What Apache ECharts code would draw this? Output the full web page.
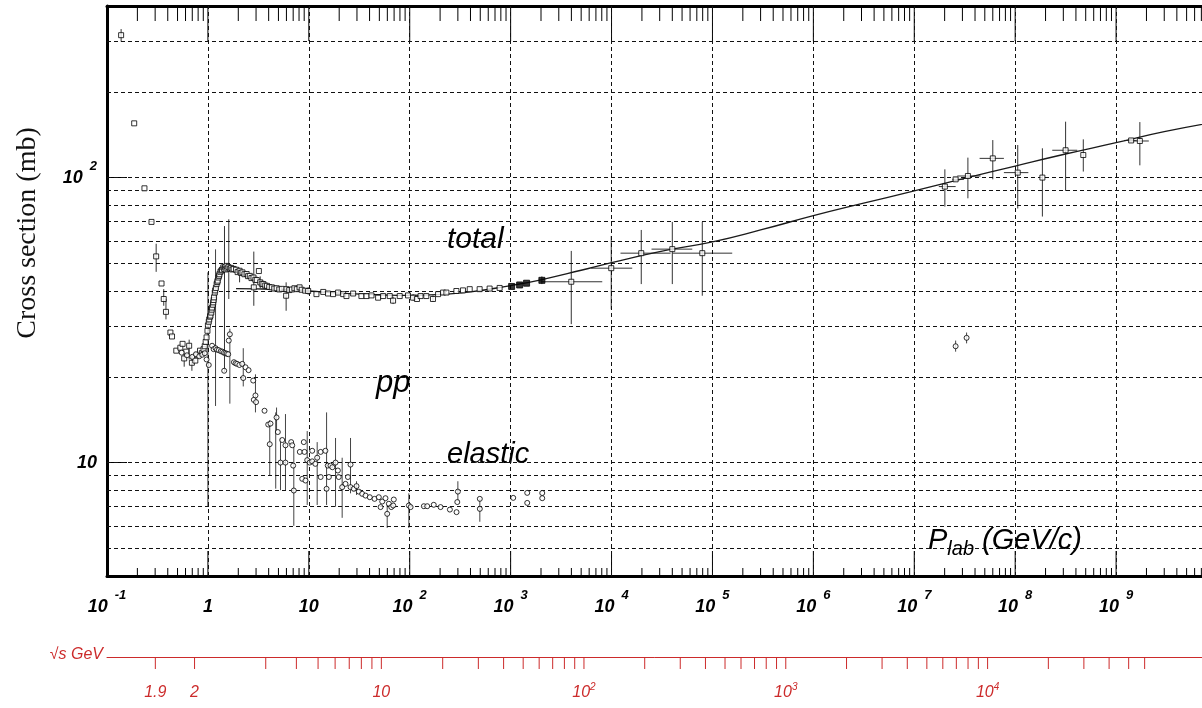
<!DOCTYPE html>
<html>
<head>
<meta charset="utf-8">
<script src="https://cdn.jsdelivr.net/npm/echarts@6/dist/echarts.min.js"></script>
<style>
  html, body { margin: 0; padding: 0; background: #fff; overflow: hidden; }
  #chart { width: 1202px; height: 708px; }
</style>
</head>
<body>
<div id="chart"></div>
<script>
// ---- pp cross sections vs laboratory beam momentum ----
// momentum in GeV/c, cross section in mb

// total cross section, open squares [p, sigma]
const totalPoints = [
  [0.138, 316], [0.186, 155], [0.235, 91.7], [0.276, 69.9], [0.307, 52.9], [0.347, 42.5],
  [0.365, 37.5], [0.384, 33.8], [0.425, 28.6], [0.441, 27.7], [0.486, 24.7], [0.533, 25.3],
  [0.561, 26.1], [0.582, 23.2], [0.61, 24.5], [0.652, 25.7], [0.694, 22.4], [0.75, 22.8],
  [0.785, 23.8], [0.835, 24.7], [0.87, 24.2], [0.905, 25.0], [0.93, 25.6],
  [0.95, 26.5], [0.97, 27.5], [0.99, 29.0], [1.0, 30.3], [1.02, 31.2], [1.03, 31.8],
  [1.05, 32.5], [1.06, 32.8], [1.08, 33.6], [1.09, 34.4], [1.10, 35.0], [1.12, 35.8],
  [1.13, 36.5], [1.14, 37.2], [1.15, 38.0], [1.17, 39.5], [1.18, 40.2], [1.20, 41.0],
  [1.22, 42.3], [1.24, 43.0], [1.25, 43.5], [1.27, 44.6], [1.29, 45.2], [1.30, 45.8],
  [1.33, 46.7], [1.36, 47.2], [1.38, 47.5], [1.42, 48.4], [1.45, 47.8], [1.48, 48.6],
  [1.50, 47.6], [1.53, 49.0], [1.56, 48.0], [1.60, 48.5], [1.65, 47.9], [1.70, 48.2],
  [1.75, 47.6], [1.80, 47.8], [1.90, 47.5], [1.97, 46.6], [2.06, 47.1], [2.12, 46.3],
  [2.20, 46.5], [2.30, 45.8], [2.42, 45.9], [2.50, 45.1], [2.60, 45.2], [2.70, 44.4],
  [2.85, 41.2], [2.83, 44.6], [2.95, 43.8], [3.05, 43.7], [3.20, 47.0], [3.30, 42.9],
  [3.42, 42.4], [3.55, 42.3], [3.70, 41.8], [3.85, 41.7], [4.05, 41.3], [4.30, 41.2],
  [4.55, 40.8], [4.80, 40.9], [5.10, 40.5], [5.40, 40.7], [5.96, 38.5], [6.00, 40.6],
  [6.40, 40.3], [6.80, 40.5], [7.20, 40.9], [7.60, 40.6], [8.10, 41.2], [8.50, 40.4],
  [9.20, 40.1], [9.85, 40.0], [11.9, 39.0], [13.9, 39.7], [15.5, 39.2], [17.4, 39.0],
  [19.5, 39.5], [21.9, 39.0], [23.6, 38.4], [27.5, 39.2], [33.2, 38.4], [37.3, 38.4],
  [41.8, 38.6], [48.6, 37.9], [54.5, 38.4], [63.4, 38.4], [68.4, 37.0], [79.6, 38.4],
  [96.2, 38.6], [108, 37.9], [118, 37.5], [128, 38.4], [146, 38.4], [170, 37.5],
  [191, 39.0], [214, 39.5], [231, 39.5], [290, 40.0], [337, 40.2], [393, 40.6],
  [493, 40.6], [619, 40.8], [778, 41.0],
  [3990, 43.1], [9930, 48.1], [19700, 54.3], [40000, 56.1], [79300, 54.3],
  [2.01e7, 93.0], [2.57e7, 98.6], [3.4e7, 101.3], [6.0e7, 116.8], [1.06e8, 104.1],
  [1.86e8, 100], [3.16e8, 124.7], [4.73e8, 120], [1.41e9, 135], [1.72e9, 134.4]
];

// total cross section, solid markers [p, sigma]
const totalSolid = [[1023, 41.5], [1228, 42.0], [1439, 42.6], [2040, 43.6]];

// total cross section uncertainties [p, sigma, sigmaLow, sigmaHigh, pLow, pHigh]
const totalErrors = [
  [0.138, 316, 300, 332, null, null], [0.307, 52.9, 46.7, 58.6, null, null],
  [0.365, 37.5, 35.5, 40.6, null, null], [0.384, 33.8, 31.8, 37.5, null, null],
  [0.582, 23.2, 21.7, 24.6, null, null], [0.652, 25.7, 23.0, 27.0, null, null],
  [0.694, 22.4, 21.0, 24.0, null, null], [1.0, 30.3, 7.0, 46.5, null, null],
  [1.46, 47.8, 20.8, 67.6, null, null], [1.61, 48.5, 37.5, 71.4, null, null],
  [2.06, 47.1, 42.9, 48.3, null, null], [2.85, 41.2, 35.5, 55.0, null, null],
  [3.30, 42.9, 40.9, 45.0, null, null], [5.96, 38.5, 34.1, 42.9, null, null],
  [9.85, 40.0, 38.8, 41.3, null, null], [68.4, 37.0, 36.0, 38.2, null, null],
  [108, 37.9, 37.0, 39.0, null, null], [170, 37.5, 36.6, 38.6, null, null],
  [2040, 43.6, 42.3, 45.0, null, null],
  [3990, 43.1, 30.6, 55.3, 1978, 8090], [9930, 48.1, 34.5, 62.4, 6290, 16030],
  [19700, 54.3, 42.3, 65.5, 12270, 38450], [40000, 56.1, 42.3, 69.9, 24900, 63100],
  [79300, 54.3, 38.5, 69.9, 40000, 157000], [2.01e7, 93.0, 79.1, 106.9, 1.75e7, 2.57e7],
  [2.57e7, 98.6, null, null, 2.38e7, 3.1e7], [3.4e7, 101.3, 84.6, 117.5, 2.67e7, 4.54e7],
  [6.0e7, 116.8, 98.6, 135.4, 4.44e7, 7.73e7], [1.06e8, 104.1, 77.9, 130.1, 7.73e7, 1.35e8],
  [1.86e8, 100, 73.0, 126.7, null, null], [3.16e8, 124.7, 89.8, 157.1, 2.33e8, 4.12e8],
  [4.73e8, 120, 105, 136.2, null, null], [1.41e9, 135, null, null, 1.2e9, 1.6e9],
  [1.72e9, 134.4, 110.4, 156.6, 1.34e9, 2.11e9]
];

// elastic cross section, open circles [p, sigma]
const elasticPoints = [
  [0.55, 24.3], [0.62, 23.8], [0.70, 23.5], [0.76, 24.0], [0.82, 23.6], [0.88, 23.9],
  [0.93, 24.2], [0.97, 23.0], [1.02, 22.0], [1.10, 25.7], [1.14, 25.0], [1.19, 25.2],
  [1.23, 24.9], [1.28, 24.8], [1.34, 24.6], [1.39, 24.5], [1.44, 24.3], [1.49, 24.2],
  [1.54, 24.1], [1.59, 24.0], [1.61, 26.8], [1.65, 28.2], [1.45, 21.0], [1.81, 22.5],
  [1.88, 22.3], [1.95, 22.2], [2.05, 22.0], [2.19, 22.2], [2.24, 19.8], [2.36, 21.6],
  [2.53, 21.1], [2.81, 19.4], [2.85, 16.6], [2.96, 17.2], [3.0, 16.3], [3.64, 15.2],
  [3.96, 13.6], [4.1, 11.6], [4.17, 13.7], [4.79, 14.4], [4.93, 12.8], [5.24, 10.0],
  [5.45, 12.0], [5.87, 11.5], [5.87, 10.0], [6.69, 11.8], [6.85, 11.5], [7.0, 9.76],
  [7.1, 7.98], [8.14, 10.9], [8.6, 8.77], [8.92, 11.8], [9.06, 10.9], [9.27, 8.65],
  [9.64, 10.2], [10.2, 10.0], [10.8, 11.0], [10.8, 10.1], [11.6, 9.9], [12.1, 10.4],
  [13.1, 8.9], [13.1, 10.9], [14.6, 11.0], [15.0, 8.09], [15.4, 9.76], [15.8, 8.9],
  [16.4, 9.76], [17.1, 9.63], [18.4, 10.0], [19.4, 9.38], [19.8, 8.9], [21.4, 8.2],
  [23.1, 8.42], [24.4, 8.9], [25.9, 9.84], [25.9, 8.2], [27.9, 8.09], [29.7, 8.27],
  [31.3, 7.91], [33.8, 7.77], [36.5, 7.66], [40.2, 7.56], [44.8, 7.46], [49.4, 7.56],
  [51.4, 6.98], [53.4, 7.3], [57.5, 7.5], [59.8, 6.61], [62.1, 7.17], [65.6, 6.98],
  [68.6, 7.07], [69.5, 7.42], [98, 7.07], [102, 6.98], [138, 7.03], [149, 7.03],
  [173, 7.11], [202, 6.98], [250, 6.84], [291, 6.70], [296, 7.27], [300, 7.91],
  [495, 7.46], [495, 6.88], [1061, 7.52], [1460, 7.83], [1460, 7.22], [2057, 7.82],
  [2057, 7.5], [2.57e7, 25.6], [3.3e7, 27.4]
];

// elastic cross section uncertainties [p, sigma, sigmaLow, sigmaHigh]
const elasticErrors = [
  [1.19, 25.2, 15.8, 56], [1.65, 28.2, 16.1, 29.5], [2.24, 19.8, 18.5, 25.2],
  [2.96, 17.2, 15.0, 20.4], [4.1, 11.6, 9.0, 14.1], [4.79, 14.4, 13.0, 15.6],
  [4.7, 13.0, 8.1, 15.0], [5.24, 10.0, 8.0, 12.2], [5.87, 11.5, 8.0, 14.8],
  [7.1, 7.98, 6.0, 11.4], [9.64, 10.2, 7.1, 12.9], [12.1, 10.4, 7.1, 11.8],
  [15.0, 8.09, 7.1, 15.0], [18.4, 10.0, 7.0, 12.2], [21.4, 8.2, 6.4, 10.4],
  [25.9, 9.84, 7.8, 12.2], [29.7, 8.27, 7.7, 8.6], [59.8, 6.61, 5.9, 7.1],
  [98, 7.07, 5.9, 7.8], [300, 7.91, 7.3, 8.6], [495, 6.88, 6.2, 7.46],
  [2.57e7, 25.6, 24.5, 26.8], [3.3e7, 27.4, 26.2, 28.6]
];

// fit to the total cross section above a few GeV/c [p, sigma]
const totalFit = [
  [1.9, 40.8], [3, 40.7], [5, 40.5], [10, 40.0], [20, 39.3], [50, 38.8], [100, 38.6],
  [200, 38.9], [400, 39.7], [1000, 41.8], [2000, 43.8], [5000, 47.3], [1e4, 50.3],
  [3e4, 55.0], [1e5, 59.5], [3e5, 65.5], [1e6, 73.5], [3e6, 81.0], [1e7, 89.8],
  [3e7, 99.0], [1e8, 109.8], [3e8, 120.5], [1e9, 132.6], [3e9, 145.0], [1e10, 157.0]
];

// horizontal grid levels (mb) and labelled momentum decades (powers of ten)
const sigmaGridLevels = [5, 6, 7, 8, 9, 10, 20, 30, 40, 50, 60, 70, 80, 90, 100, 200, 300];
const momentumDecades = [-1, 0, 1, 2, 3, 4, 5, 6, 7, 8, 9];

// centre-of-mass energy scale: tick values and labelled ones (GeV)
const sqrtSTicks = [1.9, 2, 3, 4, 5, 6, 7, 8, 9, 10, 20, 30, 40, 50, 60, 70, 80, 90, 100,
  200, 300, 400, 500, 600, 700, 800, 900, 1000, 2000, 3000, 4000, 5000, 6000, 7000, 8000,
  9000, 10000, 20000, 30000, 40000, 50000, 60000];
const sqrtSLabels = [[1.9, '1.9'], [2, '2'], [10, '10'], [100, '10{e|2}'], [1000, '10{e|3}'], [10000, '10{e|4}']];

// axis ranges
const P_MIN = 0.1, P_MAX = 1e10;
const SIG_MIN = 4, SIG_MAX = 400;

// ---- helpers ----
const PROTON_MASS = 0.938272;
// beam momentum on a fixed proton target giving a centre-of-mass energy sqrt(s)
function plabFromSqrtS(rs) {
  const s = rs * rs;
  const e = (s - 2 * PROTON_MASS * PROTON_MASS) / (2 * PROTON_MASS);
  return Math.sqrt(e * e - PROTON_MASS * PROTON_MASS);
}

// momentum axis ticks: [value, sigma at frame bottom, 1 = decade / 0 = sub-decade, exponent]
const momentumTicks = [];
momentumDecades.forEach(k => {
  momentumTicks.push([Math.pow(10, k), SIG_MIN, 1, k]);
  for (let m = 2; m <= 9; m++) momentumTicks.push([m * Math.pow(10, k), SIG_MIN, 0, k]);
});

const FONT = '"Liberation Sans", Arial, sans-serif';
const RED = '#cc2b2b';
const labelRich = {
  b: { fontFamily: FONT, fontSize: 18, fontWeight: 'bold', fontStyle: 'italic', color: '#000', fill: '#000', lineHeight: 36 },
  e: { fontFamily: FONT, fontSize: 13, fontWeight: 'bold', fontStyle: 'italic', color: '#000', fill: '#000', lineHeight: 13, padding: [0, 0, 23, 7] }
};
function powerText(e) {
  if (e === 0) return '{b|1}';
  if (e === 1) return '{b|10}';
  return '{b|10}{e|' + e + '}';
}
function yLabel(v) {
  const l = Math.log10(v);
  const e = Math.round(l);
  return Math.abs(l - e) > 1e-6 ? '' : powerText(e);
}

const isNum = v => v != null && isFinite(v) && v > 0;

function errorBars(rows, color) {
  return {
    type: 'custom',
    xAxisIndex: 0, yAxisIndex: 0,
    silent: true,
    clip: true,
    z: 3,
    dimensions: ['p', 's', 'lo', 'hi', 'pl', 'ph'],
    encode: { x: 0, y: 1 },
    data: rows.map(r => [r[0], r[1], r[2] ?? NaN, r[3] ?? NaN, r[4] ?? NaN, r[5] ?? NaN]),
    renderItem: (params, api) => {
      const p = api.value(0), s = api.value(1);
      const lo = api.value(2), hi = api.value(3), pl = api.value(4), ph = api.value(5);
      const children = [];
      const st = { stroke: color, lineWidth: 1 };
      if (isNum(lo) && isNum(hi)) {
        const a = api.coord([p, lo]), b = api.coord([p, hi]);
        children.push({ type: 'line', shape: { x1: a[0], y1: a[1], x2: b[0], y2: b[1] }, style: st });
      }
      if (isNum(pl) && isNum(ph)) {
        const a = api.coord([pl, s]), b = api.coord([ph, s]);
        children.push({ type: 'line', shape: { x1: a[0], y1: a[1], x2: b[0], y2: b[1] }, style: st });
      }
      return { type: 'group', children };
    }
  };
}

const SQRTS_OFFSET = 81;
const dashed = { color: '#111', width: 1, type: [4, 3] };

const chart = echarts.init(document.getElementById('chart'), null, { renderer: 'canvas' });

const option = {
  animation: false,
  backgroundColor: '#fff',
  // the plotting frame runs past the right edge of the page
  grid: { left: 107, top: 6, width: 1110, height: 570, containLabel: false, outerBoundsMode: 'none' },
  xAxis: [
    {
      type: 'log', logBase: 10, min: P_MIN, max: P_MAX, position: 'bottom',
      axisLine: { show: true, lineStyle: { color: '#000', width: 3 } },
      axisTick: { show: false }, axisLabel: { show: false }, splitLine: { show: false }
    },
    {
      type: 'log', logBase: 10, min: P_MIN, max: P_MAX, position: 'top',
      axisLine: { show: true, lineStyle: { color: '#000', width: 3 } },
      axisTick: { show: false }, axisLabel: { show: false }, splitLine: { show: false }
    },
    {
      type: 'log', logBase: 10, min: P_MIN, max: P_MAX, position: 'bottom', offset: SQRTS_OFFSET,
      axisLine: { show: true, lineStyle: { color: RED, width: 1 } },
      axisTick: { show: false }, axisLabel: { show: false }, splitLine: { show: false }
    }
  ],
  yAxis: [
    {
      type: 'log', logBase: 10, min: SIG_MIN, max: SIG_MAX,
      axisLine: { show: true, lineStyle: { color: '#000', width: 3 } },
      axisTick: { show: true, inside: true, length: 20, lineStyle: { color: '#000', width: 1 } },
      axisLabel: { show: true, margin: 10, formatter: yLabel, rich: labelRich },
      splitLine: { show: false }
    }
  ],
  series: [
    // momentum axis ticks (bottom and top frame edges) and decade labels
    {
      type: 'custom', silent: true, clip: false, z: 4,
      xAxisIndex: 0, yAxisIndex: 0,
      data: momentumTicks,
      encode: { x: 0, y: 1 },
      renderItem: (params, api) => {
        const v = api.value(0);
        const major = api.value(2) === 1;
        const bottom = api.coord([v, SIG_MIN]);
        const top = api.coord([v, SIG_MAX]);
        const st = { stroke: '#000', lineWidth: 1 };
        const children = [
          { type: 'line', shape: { x1: bottom[0], y1: bottom[1], x2: bottom[0], y2: bottom[1] - (major ? 25 : 8) }, style: st },
          { type: 'line', shape: { x1: top[0], y1: top[1], x2: top[0], y2: top[1] + (major ? 35 : 15) }, style: st }
        ];
        if (major) {
          children.push({
            type: 'text', x: bottom[0], y: bottom[1] + 31,
            style: { text: powerText(api.value(3)), align: 'center', verticalAlign: 'middle', rich: labelRich }
          });
        }
        return { type: 'group', children };
      }
    },
    // centre-of-mass energy scale below the momentum axis
    {
      type: 'custom', silent: true, clip: false, z: 4,
      xAxisIndex: 0, yAxisIndex: 0,
      data: sqrtSTicks.map(rs => [plabFromSqrtS(rs), SIG_MIN, rs]),
      encode: { x: 0, y: 1 },
      renderItem: (params, api) => {
        const rs = api.value(2);
        const c = api.coord([api.value(0), SIG_MIN]);
        const y0 = c[1] + SQRTS_OFFSET;
        const children = [
          { type: 'line', shape: { x1: c[0], y1: y0, x2: c[0], y2: y0 + 12 }, style: { stroke: RED, lineWidth: 1 } }
        ];
        const lab = sqrtSLabels.find(l => Math.abs(l[0] - rs) < 1e-9);
        if (lab) {
          children.push({
            type: 'text',
            x: c[0], y: y0 + 36,
            style: {
              text: lab[1], fill: RED, align: 'center', verticalAlign: 'middle',
              font: 'italic 16px ' + FONT,
              rich: {
                e: { fontFamily: FONT, fontStyle: 'italic', fontSize: 10, fill: RED, color: RED, padding: [0, 0, 12, 0] }
              }
            }
          });
        }
        return { type: 'group', children };
      }
    },
    // fit line, carrying the dashed grid
    {
      type: 'line', name: 'fit', data: totalFit, smooth: true, showSymbol: false, symbol: 'none',
      silent: true, z: 3,
      lineStyle: { color: '#1a1a1a', width: 1.3 },
      markLine: {
        silent: true, symbol: 'none', animation: false,
        label: { show: false },
        lineStyle: dashed,
        data: sigmaGridLevels.map(v => ({ yAxis: v }))
          .concat(momentumDecades.filter(k => k >= 0).map(k => ({ xAxis: Math.pow(10, k) })))
      }
    },
    errorBars(totalErrors, '#333'),
    errorBars(elasticErrors, '#444'),
    {
      type: 'scatter', name: 'total', data: totalPoints, symbol: 'rect', symbolSize: 5,
      silent: true, z: 5,
      itemStyle: { color: '#fff', borderColor: '#000', borderWidth: 1 }
    },
    {
      type: 'scatter', name: 'total (solid)', data: totalSolid, symbol: 'rect', symbolSize: 6,
      silent: true, z: 5,
      itemStyle: { color: '#000', borderColor: '#000', borderWidth: 1 }
    },
    {
      type: 'scatter', name: 'elastic', data: elasticPoints, symbol: 'circle', symbolSize: 5,
      silent: true, z: 5,
      itemStyle: { color: '#fff', borderColor: '#000', borderWidth: 1 }
    }
  ],
  graphic: [
    {
      type: 'text', x: 28, y: 233, rotation: Math.PI / 2, silent: true,
      style: { text: 'Cross section (mb)', align: 'center', verticalAlign: 'middle', font: '28px "Liberation Serif", "Times New Roman", serif', fill: '#111' }
    },
    {
      type: 'text', x: 447, y: 240, silent: true,
      style: { text: 'total', align: 'left', verticalAlign: 'middle', font: 'italic 30px ' + FONT, fill: '#000' }
    },
    {
      type: 'text', x: 376, y: 383, silent: true,
      style: { text: 'pp', align: 'left', verticalAlign: 'middle', font: 'italic 31px ' + FONT, fill: '#000' }
    },
    {
      type: 'text', x: 447, y: 455, silent: true,
      style: { text: 'elastic', align: 'left', verticalAlign: 'middle', font: 'italic 29px ' + FONT, fill: '#000' }
    },
    {
      type: 'text', x: 928, y: 541, silent: true,
      style: {
        text: '{a|P}{s|lab}{a| (GeV/c)}', align: 'left', verticalAlign: 'middle',
        rich: {
          a: { fontFamily: FONT, fontStyle: 'italic', fontSize: 29, color: '#000', fill: '#000' },
          s: { fontFamily: FONT, fontStyle: 'italic', fontSize: 20, color: '#000', fill: '#000', padding: [16, 0, 0, 0] }
        }
      }
    },
    {
      type: 'text', x: 103, y: 655, silent: true,
      style: { text: '\u221As GeV', align: 'right', verticalAlign: 'middle', font: 'italic 16px ' + FONT, fill: RED }
    }
  ]
};

chart.setOption(option);
</script>
</body>
</html>
